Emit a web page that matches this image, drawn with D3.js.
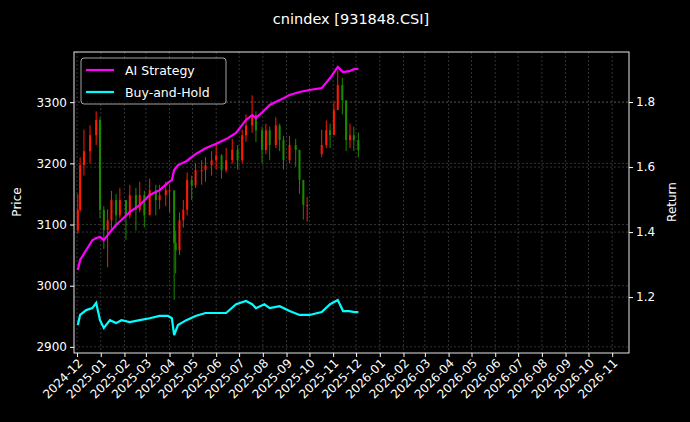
<!DOCTYPE html>
<html><head><meta charset="utf-8">
<script src="https://cdn.jsdelivr.net/npm/d3@7"></script>
<style>body{margin:0;background:#000}svg{display:block}text{font-family:"DejaVu Sans",sans-serif}</style>
</head><body><svg id="c" width="690" height="422"></svg>
<script>
const title = "cnindex [931848.CSI]";
const candleDates = ["2024-12-02","2024-12-05","2024-12-10","2024-12-18","2024-12-26","2024-12-31","2025-01-05","2025-01-10","2025-01-15","2025-01-21","2025-01-26","2025-02-03","2025-02-08","2025-02-16","2025-02-21","2025-02-27","2025-03-06","2025-03-14","2025-03-19","2025-03-27","2025-04-01","2025-04-07","2025-04-09","2025-04-14","2025-04-19","2025-04-24","2025-04-30","2025-05-05","2025-05-13","2025-05-18","2025-05-26","2025-06-01","2025-06-08","2025-06-14","2025-06-22","2025-06-29","2025-07-05","2025-07-10","2025-07-18","2025-07-23","2025-07-31","2025-08-05","2025-08-10","2025-08-18","2025-08-23","2025-08-28","2025-09-05","2025-09-13","2025-09-18","2025-09-23","2025-09-28","2025-10-17","2025-10-23","2025-10-28","2025-11-02","2025-11-07","2025-11-13","2025-11-18","2025-11-23","2025-11-28","2025-12-04"];
const opens  = [3090,3124,3197,3220,3246,3271,3124,3091,3107,3140,3115,3140,3115,3148,3124,3148,3115,3156,3140,3148,3156,3156,3070,3058,3107,3124,3173,3164,3189,3189,3197,3205,3213,3189,3205,3222,3205,3246,3262,3279,3254,3222,3254,3230,3262,3238,3205,3230,3222,3173,3132,3215,3230,3254,3246,3287,3328,3303,3238,3246,3238];
const closes = [3124,3197,3220,3246,3271,3124,3091,3107,3140,3115,3140,3115,3148,3124,3148,3115,3156,3140,3148,3156,3156,3070,3058,3107,3124,3173,3164,3189,3189,3197,3205,3213,3189,3205,3222,3205,3246,3262,3279,3254,3222,3254,3230,3262,3238,3205,3230,3222,3173,3132,3132,3230,3254,3246,3287,3328,3303,3238,3246,3238,3222];
const highs  = [3150,3210,3255,3262,3285,3275,3130,3125,3155,3150,3160,3140,3165,3160,3170,3155,3175,3165,3165,3170,3165,3150,3090,3120,3140,3185,3180,3200,3205,3210,3220,3230,3215,3225,3240,3230,3255,3280,3311,3285,3260,3265,3260,3275,3265,3245,3245,3240,3215,3150,3145,3255,3270,3265,3300,3352,3340,3300,3265,3260,3250];
const lows   = [3085,3120,3180,3200,3230,3110,3060,3030,3090,3095,3110,3075,3110,3090,3120,3095,3120,3115,3125,3130,3120,2977,3020,3050,3095,3115,3140,3160,3165,3170,3180,3190,3175,3185,3200,3190,3200,3235,3250,3235,3200,3215,3205,3225,3220,3190,3200,3195,3150,3108,3105,3210,3225,3225,3250,3290,3280,3220,3225,3220,3210];
const lineDates = ["2024-12-02","2024-12-05","2024-12-13","2024-12-21","2024-12-26","2024-12-31","2025-01-05","2025-01-13","2025-01-21","2025-01-28","2025-02-08","2025-02-21","2025-03-06","2025-03-19","2025-03-30","2025-04-04","2025-04-07","2025-04-12","2025-04-23","2025-05-05","2025-05-18","2025-06-01","2025-06-14","2025-06-27","2025-07-10","2025-07-18","2025-07-23","2025-08-03","2025-08-10","2025-08-23","2025-09-05","2025-09-18","2025-10-01","2025-10-17","2025-10-28","2025-11-07","2025-11-14","2025-11-22","2025-11-29","2025-12-04"];
const aiStrategy = [1.283,1.314,1.345,1.375,1.382,1.385,1.375,1.400,1.422,1.437,1.462,1.483,1.514,1.529,1.552,1.560,1.591,1.606,1.618,1.640,1.658,1.672,1.686,1.705,1.745,1.760,1.751,1.775,1.791,1.806,1.822,1.831,1.837,1.843,1.874,1.908,1.892,1.895,1.902,1.902];
const buyHold = [1.114,1.145,1.160,1.166,1.182,1.129,1.105,1.129,1.120,1.129,1.123,1.129,1.135,1.142,1.142,1.135,1.083,1.114,1.129,1.142,1.151,1.151,1.151,1.178,1.188,1.178,1.166,1.178,1.166,1.172,1.157,1.145,1.145,1.154,1.178,1.191,1.157,1.157,1.154,1.154];
const priceTicks = [2900,3000,3100,3200,3300];
const returnTicks = [1.2,1.4,1.6,1.8];

const P = d3.timeParse("%Y-%m-%d");
const svg = d3.select("#c");
svg.append("rect").attr("width",690).attr("height",422).attr("fill","#000");
const L=74,R=629,T=52,B=353;
const x = d3.scaleTime().domain([P("2024-11-27"),P("2026-11-23")]).range([L,R]);
const yP = d3.scaleLinear().domain([2890,3382]).range([B,T]);
const yR = d3.scaleLinear().domain([1.028,1.954]).range([B,T]);
const months = d3.timeMonth.range(P("2024-12-01"),P("2026-11-02"));

const grid = svg.append("g").attr("stroke","#555").attr("stroke-width",0.6).attr("stroke-dasharray","2,2");
months.forEach(m=>grid.append("line").attr("x1",x(m)).attr("x2",x(m)).attr("y1",T).attr("y2",B));
priceTicks.forEach(v=>grid.append("line").attr("x1",L).attr("x2",R).attr("y1",yP(v)).attr("y2",yP(v)));
returnTicks.forEach(v=>grid.append("line").attr("x1",L).attr("x2",R).attr("y1",yR(v)).attr("y2",yR(v)));

const cg = svg.append("g");
candleDates.forEach((d,i)=>{
  const up = closes[i]>=opens[i], col = up?"#ff1a00":"#1a8a00";
  const cx = x(P(d));
  cg.append("line").attr("x1",cx).attr("x2",cx).attr("y1",yP(highs[i])).attr("y2",yP(lows[i])).attr("stroke",col).attr("stroke-width",1);
  const y0=yP(Math.max(opens[i],closes[i])), y1=yP(Math.min(opens[i],closes[i]));
  cg.append("rect").attr("x",cx-1).attr("width",2).attr("y",y0).attr("height",Math.max(1,y1-y0)).attr("fill",col);
});

const ln = (arr)=>d3.line().x((d,i)=>x(P(lineDates[i]))).y(d=>yR(d))(arr);
svg.append("path").attr("d",ln(aiStrategy)).attr("fill","none").attr("stroke","#ff00ff").attr("stroke-width",2.2);
svg.append("path").attr("d",ln(buyHold)).attr("fill","none").attr("stroke","#00ffff").attr("stroke-width",2.2);

svg.append("rect").attr("x",L).attr("y",T).attr("width",R-L).attr("height",B-T).attr("fill","none").attr("stroke","#fff").attr("stroke-width",0.9);

const ax = svg.append("g").attr("transform",`translate(0,${B})`).call(d3.axisBottom(x).tickValues(months).tickFormat(d3.timeFormat("%Y-%m")).tickSize(4));
ax.select(".domain").remove();
ax.selectAll("line").attr("stroke","#fff");
ax.selectAll("text").attr("fill","#fff").attr("font-size",12).style("font-family","DejaVu Sans").attr("text-anchor","end").attr("transform","rotate(-45)").attr("dx","-0.3em").attr("dy","0.4em");

const al = svg.append("g").attr("transform",`translate(${L},0)`).call(d3.axisLeft(yP).tickValues(priceTicks).tickFormat(d3.format("d")).tickSize(4));
al.select(".domain").remove(); al.selectAll("line").attr("stroke","#fff");
al.selectAll("text").attr("fill","#fff").attr("font-size",12).style("font-family","DejaVu Sans");
const ar = svg.append("g").attr("transform",`translate(${R},0)`).call(d3.axisRight(yR).tickValues(returnTicks).tickFormat(d3.format(".1f")).tickSize(4));
ar.select(".domain").remove(); ar.selectAll("line").attr("stroke","#fff");
ar.selectAll("text").attr("fill","#fff").attr("font-size",12).style("font-family","DejaVu Sans");

svg.append("text").attr("x",351).attr("y",24).attr("text-anchor","middle").attr("fill","#fff").attr("font-size",14.5).text(title);
svg.append("text").attr("transform","translate(21,202) rotate(-90)").attr("text-anchor","middle").attr("fill","#fff").attr("font-size",12).text("Price");
svg.append("text").attr("transform","translate(676,202) rotate(-90)").attr("text-anchor","middle").attr("fill","#fff").attr("font-size",12).text("Return");

const lg = svg.append("g");
lg.append("rect").attr("x",81).attr("y",58).attr("width",145).attr("height",46).attr("rx",3).attr("fill","#000").attr("fill-opacity",0.8).attr("stroke","#ccc").attr("stroke-width",0.8);
[["AI Strategy","#ff00ff"],["Buy-and-Hold","#00ffff"]].forEach((e,i)=>{
  const yy=70+i*22;
  lg.append("line").attr("x1",86).attr("x2",114).attr("y1",yy).attr("y2",yy).attr("stroke",e[1]).attr("stroke-width",2.2);
  lg.append("text").attr("x",125).attr("y",yy+4.5).attr("fill","#fff").attr("font-size",12.5).text(e[0]);
});
</script></body></html>
